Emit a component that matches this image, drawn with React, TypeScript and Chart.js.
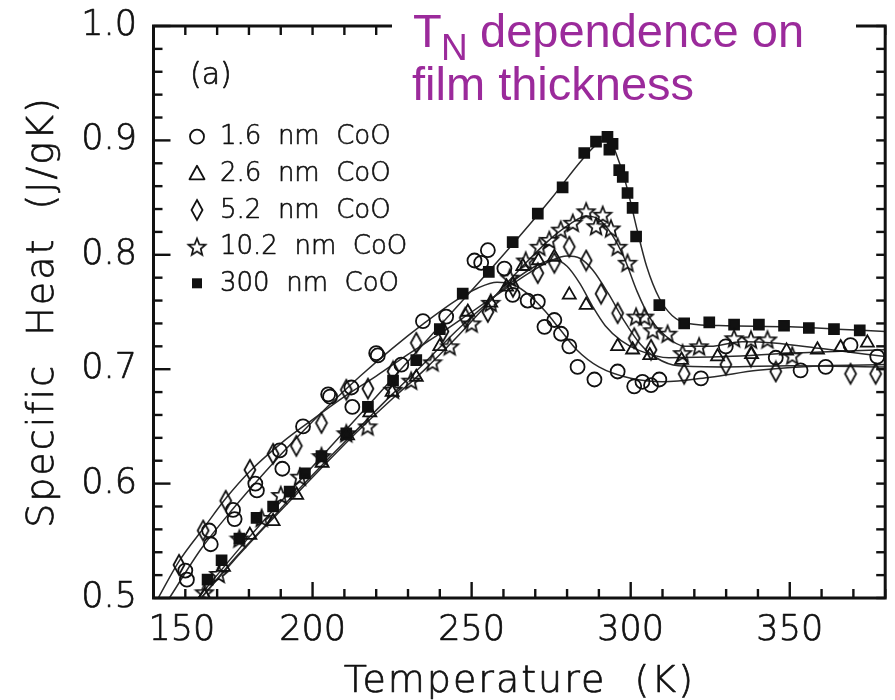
import React, { useEffect, useRef } from 'react';
import { Chart, registerables } from 'chart.js';

Chart.register(...registerables);

// ---------- axis ticks ----------
const xMajorTicks = [150, 200, 250, 300, 350];
const yMajorTicks = [0.5, 0.6, 0.7, 0.8, 0.9, 1.0];
const yTickLabels = ['0.5', '0.6', '0.7', '0.8', '0.9', '1.0'];

// ---------- legend ----------
const seriesLabels = ['1.6  nm  CoO', '2.6  nm  CoO', '5.2  nm  CoO', '10.2  nm  CoO', '300  nm  CoO'];

// ---------- 1.6 nm (circles) ----------
const c16T = [160, 160.5, 167.5, 168, 175, 175.5, 182, 182.5, 189.7, 190.5, 197, 204.9, 205.5, 212.2, 212.5, 220, 220.5, 227.9, 234.7, 242, 250.9, 253, 255.1, 260.3, 262.9, 267.6, 270.8, 272.9, 276, 278.1, 280.7, 283.3, 288.6, 295.9, 301.1, 303.7, 306.4, 309, 322.1, 329.9, 345.6, 353.4, 361.3, 369.1, 377.5];
const c16V = [0.524, 0.516, 0.559, 0.547, 0.577, 0.569, 0.600, 0.594, 0.629, 0.613, 0.650, 0.678, 0.676, 0.684, 0.667, 0.714, 0.712, 0.704, 0.742, 0.746, 0.795, 0.793, 0.804, 0.788, 0.765, 0.760, 0.759, 0.737, 0.743, 0.731, 0.720, 0.702, 0.691, 0.698, 0.685, 0.689, 0.686, 0.691, 0.692, 0.720, 0.710, 0.699, 0.702, 0.721, 0.711];
const c16FitT = [155, 165, 175, 185, 195, 205, 215, 225, 235, 245, 252, 258, 263, 268, 273, 278, 283, 290, 300, 310, 325, 340, 360, 380];
const c16FitV = [0.500, 0.543, 0.578, 0.610, 0.640, 0.668, 0.694, 0.718, 0.740, 0.760, 0.771, 0.776, 0.774, 0.765, 0.751, 0.734, 0.717, 0.702, 0.692, 0.689, 0.693, 0.699, 0.703, 0.704];

// ---------- 2.6 nm (triangles) ----------
const t26T = [166, 172, 180.3, 187.6, 195, 203, 211, 218, 225, 232.6, 240, 248.8, 256, 261, 266.1, 271, 276, 280.7, 286, 295.9, 300.6, 306, 316, 327.3, 338, 349, 358.7, 366, 374.4];
const t26V = [0.502, 0.527, 0.555, 0.567, 0.590, 0.618, 0.642, 0.662, 0.680, 0.693, 0.720, 0.750, 0.758, 0.772, 0.790, 0.795, 0.798, 0.765, 0.756, 0.720, 0.717, 0.712, 0.708, 0.711, 0.713, 0.716, 0.717, 0.719, 0.723];
const t26FitT = [165, 175, 185, 195, 205, 215, 225, 235, 245, 255, 263, 270, 276, 280, 284, 288, 292, 297, 303, 312, 330, 350, 380];
const t26FitV = [0.500, 0.533, 0.563, 0.593, 0.622, 0.650, 0.678, 0.705, 0.733, 0.758, 0.777, 0.790, 0.796, 0.790, 0.775, 0.755, 0.738, 0.725, 0.716, 0.710, 0.711, 0.714, 0.717];

// ---------- 5.2 nm (diamonds) ----------
const d52T = [158, 165.6, 172.7, 180.3, 187.6, 194.9, 202.8, 210.6, 217.4, 225.3, 232.6, 241, 248, 255.1, 263, 270.8, 276, 280.7, 286, 290.7, 295.9, 301.1, 306.4, 316.8, 329.9, 337.8, 345.6, 369.1, 377];
const d52V = [0.529, 0.559, 0.585, 0.612, 0.626, 0.633, 0.653, 0.682, 0.683, 0.698, 0.723, 0.733, 0.745, 0.750, 0.772, 0.784, 0.793, 0.807, 0.795, 0.766, 0.749, 0.727, 0.717, 0.696, 0.704, 0.711, 0.698, 0.696, 0.696];
const d52FitT = [151.5, 158, 166, 173, 180, 190, 200, 210, 220, 230, 240, 250, 260, 268, 275, 280, 284, 288, 293, 298, 303, 308, 315, 330, 350, 380];
const d52FitV = [0.500, 0.532, 0.562, 0.588, 0.610, 0.635, 0.656, 0.676, 0.694, 0.713, 0.731, 0.750, 0.769, 0.784, 0.795, 0.799, 0.797, 0.787, 0.766, 0.742, 0.722, 0.710, 0.703, 0.702, 0.703, 0.702];

// ---------- 10.2 nm (stars) ----------
const s102T = [166, 170.5, 177, 184, 190, 196, 202.8, 210.6, 217.3, 225.3, 231, 237.7, 243.1, 250, 256, 262, 267, 271.3, 274.4, 278, 281.8, 286, 289.1, 291.2, 293.8, 295.9, 299, 301.7, 304.3, 306.9, 311.6, 316.3, 321.5, 332.5, 337.8, 343, 350.8];
const s102V = [0.505, 0.521, 0.552, 0.570, 0.590, 0.606, 0.624, 0.644, 0.650, 0.682, 0.690, 0.706, 0.720, 0.740, 0.758, 0.780, 0.795, 0.807, 0.813, 0.822, 0.828, 0.838, 0.825, 0.835, 0.823, 0.807, 0.793, 0.746, 0.746, 0.734, 0.731, 0.714, 0.720, 0.727, 0.726, 0.726, 0.712];
const s102FitT = [165, 175, 185, 195, 205, 215, 225, 235, 245, 255, 265, 274, 281, 286, 290, 294, 298, 302, 306, 311, 317, 325, 335, 345, 360, 380];
const s102FitV = [0.500, 0.532, 0.562, 0.591, 0.620, 0.648, 0.674, 0.699, 0.727, 0.757, 0.787, 0.812, 0.827, 0.834, 0.831, 0.818, 0.797, 0.768, 0.745, 0.729, 0.720, 0.720, 0.724, 0.723, 0.718, 0.711];

// ---------- 300 nm (filled squares) ----------
const q300T = [167, 171.4, 177, 182.4, 187.6, 192.8, 197.6, 202.8, 210.6, 217.4, 225.3, 232.6, 240, 247.2, 255.4, 262.9, 270.8, 278.6, 285.4, 289.1, 292.7, 293.3, 294.3, 296.4, 297.5, 299, 300.6, 301.7, 309, 316.8, 324.7, 332.5, 340.3, 348.2, 356, 363.9, 372];
const q300V = [0.516, 0.533, 0.552, 0.570, 0.580, 0.593, 0.609, 0.624, 0.644, 0.667, 0.690, 0.708, 0.735, 0.766, 0.785, 0.811, 0.836, 0.859, 0.889, 0.899, 0.903, 0.892, 0.897, 0.874, 0.868, 0.854, 0.841, 0.816, 0.756, 0.740, 0.741, 0.739, 0.739, 0.738, 0.736, 0.735, 0.734];
const q300FitT = [164, 180, 200, 220, 240, 260, 275, 285, 290, 293, 296, 299, 302, 305, 309, 313, 318, 330, 350, 365, 380];
const q300FitV = [0.500, 0.553, 0.615, 0.676, 0.738, 0.800, 0.849, 0.884, 0.898, 0.901, 0.884, 0.857, 0.822, 0.790, 0.762, 0.747, 0.740, 0.738, 0.737, 0.735, 0.733];

const pts = (xs: number[], ys: number[]) => xs.map((x, i) => ({ x, y: ys[i] }));

const INK = '#111';
const AXIS_FONT = '"DejaVu Sans", sans-serif';
const W = 200;

function makeDiamond(): HTMLCanvasElement {
  const c = document.createElement('canvas');
  c.width = 16; c.height = 24;
  const g = c.getContext('2d')!;
  g.strokeStyle = INK; g.lineWidth = 1.8;
  g.beginPath();
  g.moveTo(8, 2); g.lineTo(13.5, 12); g.lineTo(8, 22); g.lineTo(2.5, 12);
  g.closePath(); g.stroke();
  return c;
}

function makeStar(): HTMLCanvasElement {
  const c = document.createElement('canvas');
  c.width = 22; c.height = 22;
  const g = c.getContext('2d')!;
  g.strokeStyle = INK; g.lineWidth = 1.7; g.lineJoin = 'miter';
  g.beginPath();
  for (let i = 0; i < 10; i++) {
    const r = i % 2 === 0 ? 9 : 3.9;
    const a = -Math.PI / 2 + (i * Math.PI) / 5;
    const x = 11 + r * Math.cos(a);
    const y = 11.8 + r * Math.sin(a);
    if (i === 0) g.moveTo(x, y); else g.lineTo(x, y);
  }
  g.closePath(); g.stroke();
  return c;
}

export default function App() {
  const ref = useRef<HTMLCanvasElement | null>(null);

  useEffect(() => {
    const canvas = ref.current;
    if (!canvas) return;
    const diamond = makeDiamond();
    const star = makeStar();

    const drawMarker = (ctx: CanvasRenderingContext2D, kind: number, x: number, y: number) => {
      ctx.save();
      ctx.strokeStyle = INK; ctx.fillStyle = INK; ctx.lineWidth = 1.8;
      if (kind === 0) {
        ctx.beginPath(); ctx.arc(x, y, 7, 0, Math.PI * 2); ctx.stroke();
      } else if (kind === 1) {
        ctx.beginPath();
        ctx.moveTo(x, y - 7.5); ctx.lineTo(x + 7.5, y + 6); ctx.lineTo(x - 7.5, y + 6);
        ctx.closePath(); ctx.stroke();
      } else if (kind === 2) {
        ctx.drawImage(diamond, x - diamond.width / 2, y - diamond.height / 2);
      } else if (kind === 3) {
        ctx.drawImage(star, x - star.width / 2, y - star.height / 2);
      } else {
        ctx.fillRect(x - 5, y - 5, 10, 10);
      }
      ctx.restore();
    };

    const decor = {
      id: 'decor',
      afterDatasetsDraw(chart: any) {
        const { ctx, chartArea: a, scales } = chart;
        const xs = scales.x;
        const ys = scales.y;
        ctx.save();
        ctx.strokeStyle = INK;
        ctx.lineCap = 'butt';
        const seg = (x1: number, y1: number, x2: number, y2: number) => {
          ctx.beginPath(); ctx.moveTo(x1, y1); ctx.lineTo(x2, y2); ctx.stroke();
        };
        const txt = (s: string, x: number, y: number) => {
          ctx.fillText(s, x, y);
          ctx.strokeText(s, x, y);
        };
        // x ticks every 10 K
        ctx.lineWidth = 2.4;
        for (let t = 150; t <= 380; t += 10) {
          const px = xs.getPixelForValue(t);
          const major = xMajorTicks.includes(t);
          seg(px, a.bottom, px, a.bottom - (major ? 16 : 9));
          seg(px, a.top, px, a.top + 9);
        }
        // y ticks every 0.02
        for (let i = 0; i <= 25; i++) {
          const v = 0.5 + i * 0.02;
          const py = ys.getPixelForValue(v);
          const major = i % 5 === 0;
          seg(a.left, py, a.left + (major ? 17 : 9), py);
          seg(a.right, py, a.right - 9, py);
        }
        // frame
        ctx.lineWidth = 3;
        ctx.strokeRect(a.left, a.top, a.right - a.left, a.bottom - a.top);

        // tick labels
        ctx.fillStyle = INK;
        ctx.lineWidth = 0.7;
        ctx.lineJoin = 'round';
        ctx.font = `${W} 35px ${AXIS_FONT}`;
        ctx.textBaseline = 'alphabetic';
        xMajorTicks.forEach((t) => {
          const px = xs.getPixelForValue(t);
          if (t === 150) {
            ctx.textAlign = 'left';
            txt(String(t), px - 5, 640);
          } else {
            ctx.textAlign = 'center';
            txt(String(t), px, 640);
          }
        });
        ctx.textAlign = 'right';
        ctx.textBaseline = 'middle';
        yMajorTicks.forEach((v, i) => {
          const py = ys.getPixelForValue(v);
          txt(yTickLabels[i], 137, py);
        });

        // axis titles
        ctx.font = `${W} 38px ${AXIS_FONT}`;
        (ctx as any).letterSpacing = '2px';
        ctx.textAlign = 'center';
        ctx.textBaseline = 'alphabetic';
        txt('Temperature  (K)', (a.left + a.right) / 2, 692);
        ctx.save();
        ctx.translate(53, (a.top + a.bottom) / 2);
        ctx.rotate(-Math.PI / 2);
        txt('Specific  Heat  (J/gK)', 0, 0);
        ctx.restore();
        (ctx as any).letterSpacing = '0px';

        // panel label and legend
        ctx.textAlign = 'left';
        ctx.font = `${W} 30px ${AXIS_FONT}`;
        txt('(a)', 190, 84);
        ctx.font = `${W} 26px ${AXIS_FONT}`;
        ctx.textBaseline = 'middle';
        const rows = [136.7, 173.3, 210, 246.7, 283.3];
        seriesLabels.forEach((lab, i) => {
          drawMarker(ctx, i, 197, rows[i]);
          ctx.fillStyle = INK;
          ctx.strokeStyle = INK;
          ctx.lineWidth = 0.6;
          txt(lab, 220, rows[i] + 1);
        });

        // annotation box
        ctx.fillStyle = '#ffffff';
        ctx.fillRect(392, 0, 464, 38);
        ctx.fillStyle = '#9b2a9b';
        ctx.textBaseline = 'alphabetic';
        ctx.font = '47px "Liberation Sans", Arial, sans-serif';
        ctx.fillText('T', 413, 47);
        ctx.font = '37px "Liberation Sans", Arial, sans-serif';
        ctx.fillText('N', 441, 60);
        ctx.font = '47px "Liberation Sans", Arial, sans-serif';
        ctx.fillText('dependence on', 480, 47);
        ctx.fillText('film thickness', 412, 100);
        ctx.restore();
      },
    };

    const lineDs = (xsArr: number[], ysArr: number[]) => ({
      type: 'line' as const,
      data: pts(xsArr, ysArr),
      showLine: true,
      borderColor: '#2a2a2a',
      borderWidth: 1.5,
      pointRadius: 0,
      cubicInterpolationMode: 'monotone' as const,
      fill: false,
      order: 2,
    });
    const markDs = (xsArr: number[], ysArr: number[], style: any, radius: number, filled: boolean) => ({
      type: 'scatter' as const,
      data: pts(xsArr, ysArr),
      showLine: false,
      pointStyle: style,
      pointRadius: radius,
      pointBorderWidth: 1.8,
      pointBorderColor: INK,
      pointBackgroundColor: filled ? INK : 'rgba(255,255,255,0)',
      borderColor: INK,
      backgroundColor: filled ? INK : 'rgba(255,255,255,0)',
      order: 1,
    });

    const chart = new Chart(canvas, {
      type: 'scatter',
      data: {
        datasets: [
          markDs(c16T, c16V, 'circle', 7, false),
          markDs(t26T, t26V, 'triangle', 7.5, false),
          markDs(d52T, d52V, diamond, 8, false),
          markDs(s102T, s102V, star, 8, false),
          markDs(q300T, q300V, 'rect', 7, true),
          lineDs(c16FitT, c16FitV),
          lineDs(t26FitT, t26FitV),
          lineDs(d52FitT, d52FitV),
          lineDs(s102FitT, s102FitV),
          lineDs(q300FitT, q300FitV),
        ] as any,
      },
      options: {
        responsive: false,
        maintainAspectRatio: false,
        animation: false,
        devicePixelRatio: 1,
        layout: { padding: { left: 153.5, top: 26, right: 9, bottom: 102 } },
        plugins: { legend: { display: false }, tooltip: { enabled: false } },
        scales: {
          x: { type: 'linear', min: 150, max: 380, display: false },
          y: { type: 'linear', min: 0.5, max: 1.0, display: false },
        },
      },
      plugins: [decor],
    });
    return () => chart.destroy();
  }, []);

  return (
    <div style={{ position: 'absolute', left: 0, top: 0, width: 895, height: 700, background: '#fff' }}>
      <canvas ref={ref} width={895} height={700} style={{ width: 895, height: 700, display: 'block' }} />
    </div>
  );
}
